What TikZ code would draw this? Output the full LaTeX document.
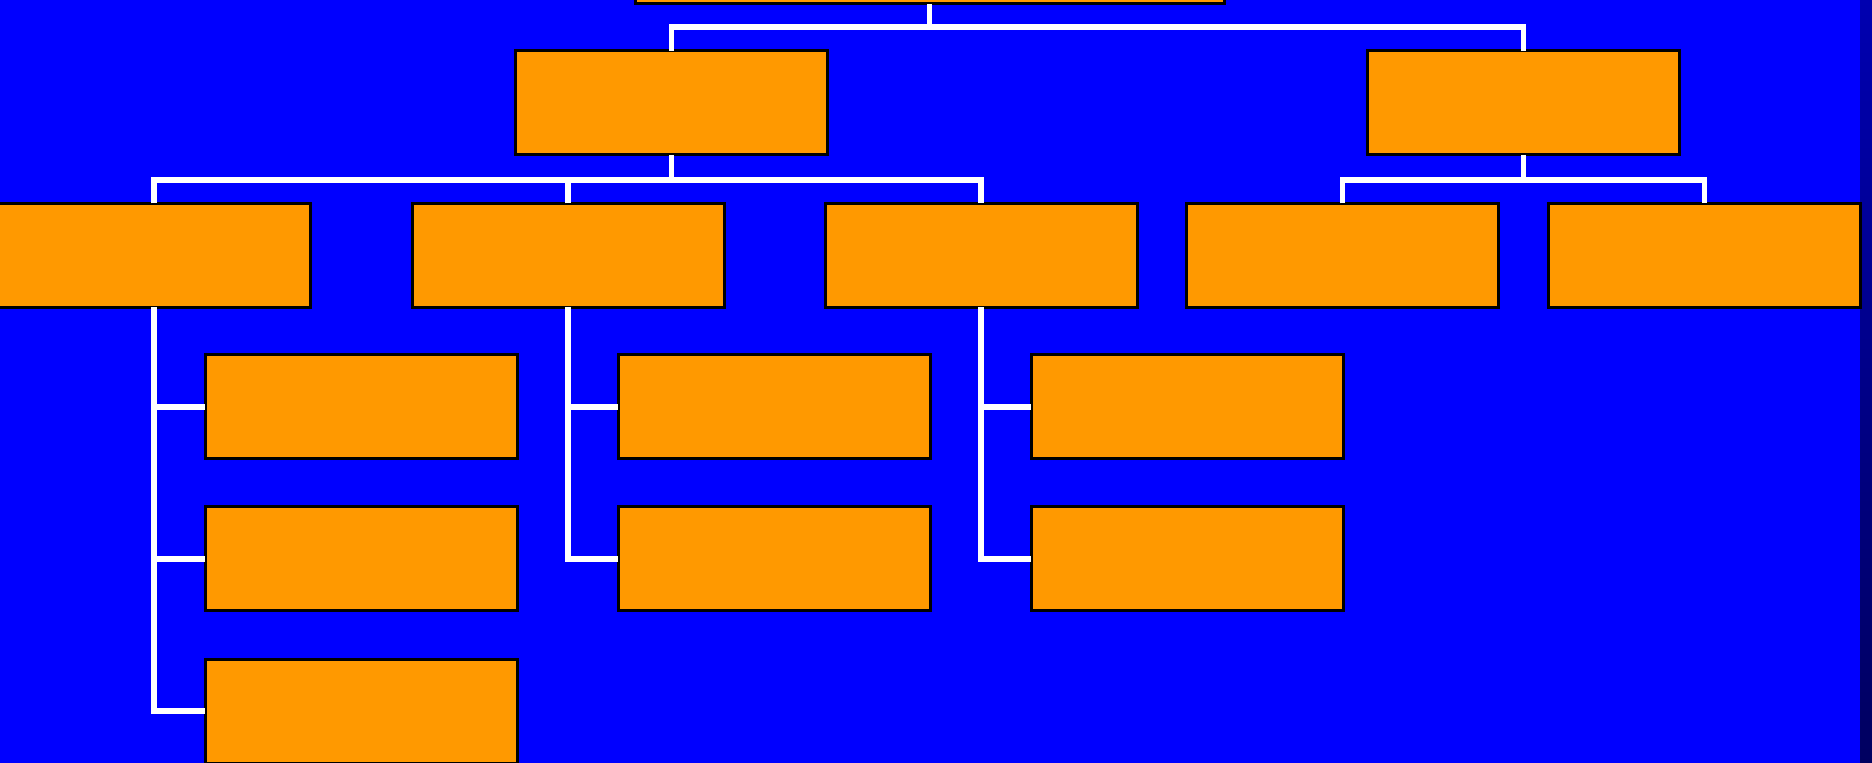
\documentclass[tikz,border=0pt]{standalone}
\definecolor{bg}{RGB}{0,0,255}
\definecolor{boxfill}{RGB}{255,153,0}
\definecolor{stripTop}{RGB}{0,0,176}
\definecolor{stripBot}{RGB}{0,0,96}
\begin{document}
\begin{tikzpicture}[x=0.5pt,y=-0.5pt,
  box/.style={draw=black,fill=boxfill,line width=1.5pt,inner sep=0pt,outer sep=0pt,
    rectangle,minimum width=156pt,minimum height=52pt},
  conn/.style={draw=white,line width=2.6pt,line join=miter}]
\useasboundingbox (0,0) rectangle (1872,763);
\fill[bg] (0,0) rectangle (1872,763);
\shade[top color=stripTop,bottom color=stripBot] (1860,0) rectangle (1872,763);
% bus levels
\coordinate (bus0) at (0,27);
\coordinate (bus1) at (0,180);
\coordinate (bus2) at (0,180);
% boxes
\node[box,minimum width=294.5pt] (root) at (929.5,-48) {};
\node[box] (A) at (671.5,103) {};
\node[box] (B) at (1523.5,103) {};
\node[box] (C1) at (154,255.5) {};
\node[box] (C2) at (568,255.5) {};
\node[box] (C3) at (981,255.5) {};
\node[box] (C4) at (1342.5,255.5) {};
\node[box] (C5) at (1704.5,255.5) {};
\node[box] (D11) at (361,407) {};
\node[box] (D12) at (361,559) {};
\node[box] (D13) at (361,711) {};
\node[box] (D21) at (774,407) {};
\node[box] (D22) at (774,559) {};
\node[box] (D31) at (1187,407) {};
\node[box] (D32) at (1187,559) {};
% connectors
\draw[conn] (root.south) -- (root.south|-bus0);
\draw[conn] (A.north) -- (A.north|-bus0) -- (B.north|-bus0) -- (B.north);
\draw[conn] (A.south) -- (A.south|-bus1);
\draw[conn] (C1.north) -- (C1.north|-bus1) -- (C3.north|-bus1) -- (C3.north);
\draw[conn] (C2.north) -- (C2.north|-bus1);
\draw[conn] (B.south) -- (B.south|-bus2);
\draw[conn] (C4.north) -- (C4.north|-bus2) -- (C5.north|-bus2) -- (C5.north);
\draw[conn] (C1.south) -- (C1.south|-D13.west) -- (D13.west);
\draw[conn] (C1.south|-D11.west) -- (D11.west);
\draw[conn] (C1.south|-D12.west) -- (D12.west);
\draw[conn] (C2.south) -- (C2.south|-D22.west) -- (D22.west);
\draw[conn] (C2.south|-D21.west) -- (D21.west);
\draw[conn] (C3.south) -- (C3.south|-D32.west) -- (D32.west);
\draw[conn] (C3.south|-D31.west) -- (D31.west);
\end{tikzpicture}
\end{document}
